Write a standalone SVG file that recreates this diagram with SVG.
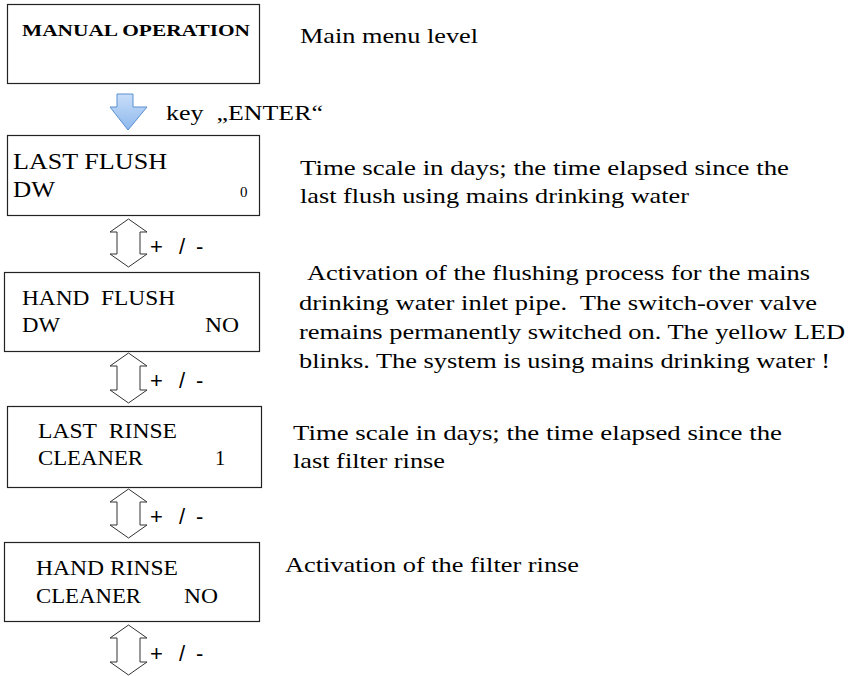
<svg xmlns="http://www.w3.org/2000/svg" width="854" height="676" viewBox="0 0 854 676">
<defs>
<linearGradient id="blue" x1="0" y1="0" x2="0" y2="1">
<stop offset="0" stop-color="#c9defa"/>
<stop offset="1" stop-color="#8db8ec"/>
</linearGradient>
</defs>
<style>
.box{fill:#fff;stroke:#222;stroke-width:1.2}
.t{font-family:"Liberation Serif","Times New Roman",serif;fill:#000}
.d{font-family:"Liberation Serif","Times New Roman",serif;font-size:21.5px;fill:#000}
.pm{font-family:"Liberation Sans",Arial,sans-serif;font-size:22px;fill:#000}
.dbl{fill:#fff;stroke:#333;stroke-width:1}
</style>
<rect width="854" height="676" fill="#fff"/>

<g id="node-manual">
<rect class="box" x="7.5" y="4.5" width="252" height="79"/>
<text class="t" x="22" y="36" font-size="17.5" font-weight="bold" textLength="228" lengthAdjust="spacingAndGlyphs">MANUAL OPERATION</text>
</g>
<g id="node-lastflush">
<rect class="box" x="7.5" y="135.5" width="252" height="80"/>
<text class="t" x="13" y="169" font-size="23" textLength="154" lengthAdjust="spacingAndGlyphs">LAST FLUSH</text>
<text class="t" x="13" y="197" font-size="23" textLength="42" lengthAdjust="spacingAndGlyphs">DW</text>
<text class="t" x="240" y="197" font-size="15">0</text>
</g>
<g id="node-handflush">
<rect class="box" x="4.5" y="272.5" width="255" height="79"/>
<text class="t" x="22" y="305" font-size="20.5" textLength="153" lengthAdjust="spacingAndGlyphs">HAND&#160;&#160;FLUSH</text>
<text class="t" x="22" y="332" font-size="20.5" textLength="38" lengthAdjust="spacingAndGlyphs">DW</text>
<text class="t" x="205" y="332" font-size="20.5" textLength="34" lengthAdjust="spacingAndGlyphs">NO</text>
</g>
<g id="node-lastrinse">
<rect class="box" x="7.5" y="406.5" width="254" height="81"/>
<text class="t" x="38" y="438" font-size="20.5" textLength="139" lengthAdjust="spacingAndGlyphs">LAST&#160;&#160;RINSE</text>
<text class="t" x="38" y="465" font-size="20.5" textLength="105" lengthAdjust="spacingAndGlyphs">CLEANER</text>
<text class="t" x="215" y="465" font-size="20.5">1</text>
</g>
<g id="node-handrinse">
<rect class="box" x="4.5" y="542.5" width="255" height="79"/>
<text class="t" x="36" y="575" font-size="20.5" textLength="142" lengthAdjust="spacingAndGlyphs">HAND RINSE</text>
<text class="t" x="36" y="603" font-size="20.5" textLength="105" lengthAdjust="spacingAndGlyphs">CLEANER</text>
<text class="t" x="184" y="603" font-size="20.5" textLength="34" lengthAdjust="spacingAndGlyphs">NO</text>
</g>

<g id="descriptions">
<text class="d" x="300" y="43" textLength="178" lengthAdjust="spacingAndGlyphs">Main menu level</text>
<text class="d" x="300" y="175" textLength="489" lengthAdjust="spacingAndGlyphs">Time scale in days; the time elapsed since the</text>
<text class="d" x="300" y="203" textLength="389" lengthAdjust="spacingAndGlyphs">last flush using mains drinking water</text>
<text class="d" x="307" y="280" textLength="503" lengthAdjust="spacingAndGlyphs">Activation of the flushing process for the mains</text>
<text class="d" x="299" y="310" textLength="518" lengthAdjust="spacingAndGlyphs">drinking water inlet pipe.&#160; The switch-over valve</text>
<text class="d" x="299" y="339" textLength="546" lengthAdjust="spacingAndGlyphs">remains permanently switched on. The yellow LED</text>
<text class="d" x="299" y="368" textLength="531" lengthAdjust="spacingAndGlyphs">blinks. The system is using mains drinking water !</text>
<text class="d" x="293" y="440" textLength="489" lengthAdjust="spacingAndGlyphs">Time scale in days; the time elapsed since the</text>
<text class="d" x="293" y="468" textLength="152" lengthAdjust="spacingAndGlyphs">last filter rinse</text>
<text class="d" x="285" y="572" textLength="294" lengthAdjust="spacingAndGlyphs">Activation of the filter rinse</text>
</g>

<g id="connectors">
<g id="enter-arrow">
<polygon points="117,94 133,94 133,107 147,107 128,130 110,107 117,107" fill="url(#blue)" stroke="#5b8fd0" stroke-width="1"/>
<text class="d" x="166" y="120" textLength="157" lengthAdjust="spacingAndGlyphs">key&#160;&#160;„ENTER“</text>
</g>
<g id="arrow1">
<polygon class="dbl" points="128.5,219 147,232 140,232 140,254 147,254 128.5,267 110,254 117,254 117,232 110,232"/>
<text class="pm" y="254"><tspan x="150">+</tspan> <tspan x="179">/</tspan> <tspan x="196">-</tspan></text>
</g>
<g id="arrow2">
<polygon class="dbl" points="128.5,353 147,366 140,366 140,390 147,390 128.5,403 110,390 117,390 117,366 110,366"/>
<text class="pm" y="388"><tspan x="150">+</tspan> <tspan x="179">/</tspan> <tspan x="196">-</tspan></text>
</g>
<g id="arrow3">
<polygon class="dbl" points="128.5,489 147,502 140,502 140,525 147,525 128.5,538 110,525 117,525 117,502 110,502"/>
<text class="pm" y="524"><tspan x="150">+</tspan> <tspan x="179">/</tspan> <tspan x="196">-</tspan></text>
</g>
<g id="arrow4">
<polygon class="dbl" points="128.5,625 147,638 140,638 140,662 147,662 128.5,675 110,662 117,662 117,638 110,638"/>
<text class="pm" y="661"><tspan x="150">+</tspan> <tspan x="179">/</tspan> <tspan x="196">-</tspan></text>
</g>
</g>
</svg>
